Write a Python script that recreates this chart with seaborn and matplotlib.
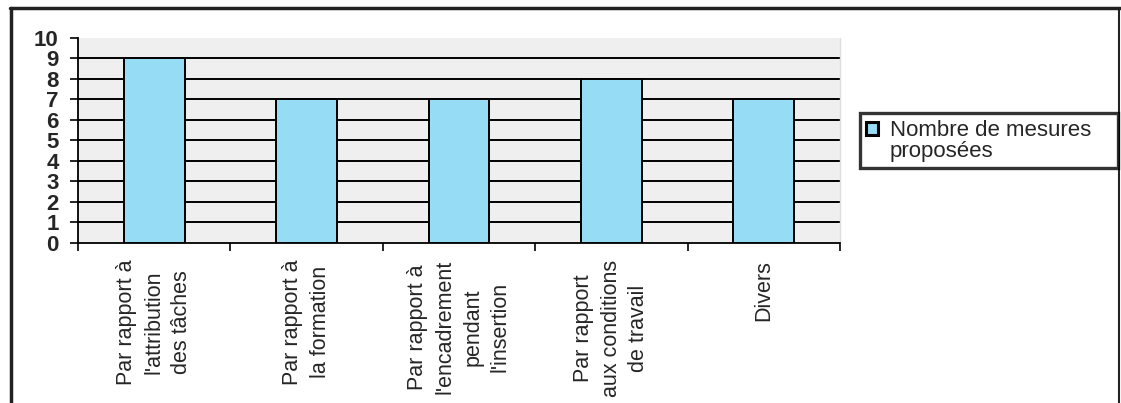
import matplotlib
matplotlib.use("Agg")
import matplotlib.pyplot as plt
import seaborn as sns
import pandas as pd
import numpy as np
from matplotlib.patches import Patch, Rectangle
from matplotlib.lines import Line2D
from matplotlib.legend_handler import HandlerPatch

categories = [
    "Par rapport à\nl'attribution\ndes tâches",
    "Par rapport à\nla formation",
    "Par rapport à\nl'encadrement\npendant\nl'insertion",
    "Par rapport\naux conditions\nde travail",
    "Divers",
]
values = [9, 7, 7, 8, 7]
series_label = "Nombre de mesures\nproposées"
y_ticks = list(range(0, 11))

bar_color = "#96dcf5"

sns.set_theme(style="white")
plt.rcParams["font.family"] = ["Liberation Sans", "DejaVu Sans"]

df = pd.DataFrame({"categorie": categories, "valeur": values})

fig = plt.figure(figsize=(11.21, 4.03), dpi=100)
ax = fig.add_axes([0.0696, 0.397, 0.6797, 0.509])
ax.set_facecolor("#efefef")

sns.barplot(data=df, x="categorie", y="valeur", color=bar_color,
            width=0.40, edgecolor="black", linewidth=1.4, saturation=1,
            ax=ax, zorder=3)

ax.set_xlim(-0.5, len(categories) - 0.5)
ax.set_ylim(0, 10)
ax.set_yticks(y_ticks)
ax.set_xlabel("")
ax.set_ylabel("")

# horizontal grid lines at each unit below the top
for v in y_ticks[1:-1]:
    ax.axhline(v, color="black", linewidth=1.4, zorder=1)

for s in ["top", "right"]:
    ax.spines[s].set_visible(False)
for s in ["left", "bottom"]:
    ax.spines[s].set_color("black")
    ax.spines[s].set_linewidth(1.3)

# category labels, with the ticks on the category boundaries
ax.set_xticks(np.arange(len(categories)), labels=categories, rotation=90,
              ha="center", va="top", fontsize=15.5, linespacing=1.4,
              multialignment="center")
ax.tick_params(axis="x", which="major", length=0, pad=12)
ax.set_xticks(np.arange(len(categories) + 1) - 0.5, minor=True)
ax.tick_params(axis="x", which="minor", length=6, width=1.2,
               color="black", direction="out", bottom=True)
ax.tick_params(axis="y", length=6, width=1.2, color="black", left=True,
               direction="out", labelsize=16, pad=8)
for lab in ax.get_yticklabels():
    lab.set_fontweight("bold")
ax.plot([len(categories) - 0.5] * 2, [0, 10], color="#dddddd", lw=1,
        zorder=2, clip_on=False)


def top_square(legend, orig_handle, xdescent, ydescent, width, height,
               fontsize):
    # square marker aligned with the first line of the label
    return Rectangle((-xdescent, -ydescent + 0.55 * fontsize), width, height)


handle = Patch(facecolor=bar_color, edgecolor="black", linewidth=2.2)
leg = fig.legend([handle], [series_label], loc="upper left",
                 bbox_to_anchor=(0.767, 0.583, 0.2302, 0.137), mode="expand",
                 frameon=True, fontsize=16,
                 handlelength=0.5, handleheight=0.5, handletextpad=0.55,
                 borderpad=0.3, fancybox=False, borderaxespad=0,
                 handler_map={Patch: HandlerPatch(patch_func=top_square)})
leg.get_texts()[0].set_linespacing(1.0)
leg.get_frame().set_edgecolor("black")
leg.get_frame().set_linewidth(2.4)

# outer frame around the chart
fig.add_artist(Line2D([0.009, 0.999], [0.98, 0.98], color="#222222",
                      lw=2.5, transform=fig.transFigure))
fig.add_artist(Line2D([0.010, 0.010], [0.0, 0.98], color="#222222",
                      lw=2.5, transform=fig.transFigure))
fig.add_artist(Line2D([0.998, 0.998], [0.0, 0.98], color="#222222",
                      lw=1.5, transform=fig.transFigure))

fig.savefig("out.png", dpi=100, facecolor="white")
